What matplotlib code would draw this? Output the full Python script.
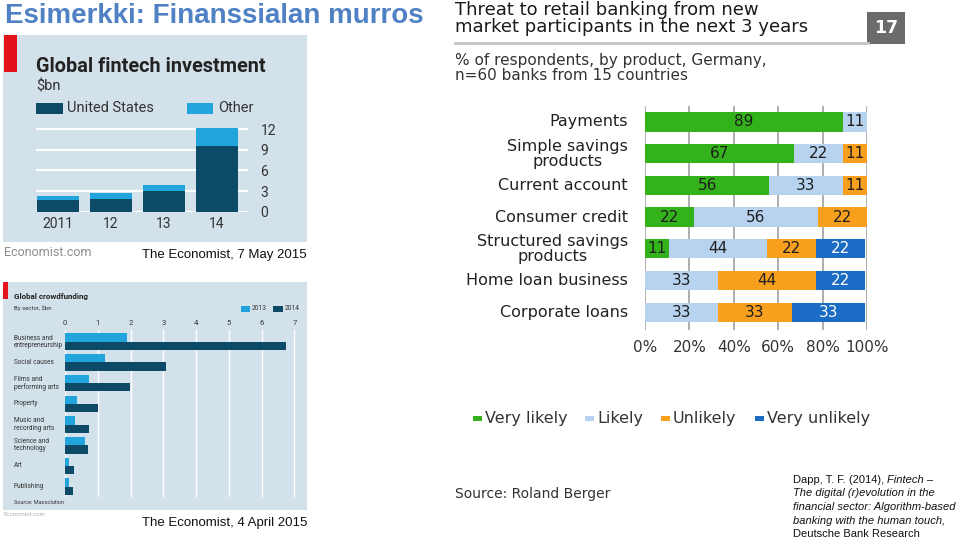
import numpy as np
import matplotlib
matplotlib.use("Agg")
import matplotlib.pyplot as plt
from matplotlib.patches import Rectangle
from matplotlib.lines import Line2D

# Global fintech investment ($bn)
years = ["2011", "12", "13", "14"]
us_inv = [1.7, 1.9, 3.0, 9.5]
other_inv = [0.6, 0.8, 0.9, 2.6]

# Global crowdfunding by sector ($bn)
sectors = ["Business and\nentrepreneurship", "Social causes", "Films and\nperforming arts",
           "Property", "Music and\nrecording arts", "Science and\ntechnology", "Art", "Publishing"]
cf_2013 = [1.88, 1.22, 0.73, 0.38, 0.30, 0.61, 0.11, 0.11]
cf_2014 = [6.73, 3.07, 1.97, 1.00, 0.74, 0.71, 0.26, 0.24]

# Threat to retail banking (% of respondents)
products = ["Payments", "Simple savings\nproducts", "Current account", "Consumer credit",
            "Structured savings\nproducts", "Home loan business", "Corporate loans"]
very_likely = [89, 67, 56, 22, 11, 0, 0]
likely = [11, 22, 33, 56, 44, 33, 33]
unlikely = [0, 11, 11, 22, 22, 44, 33]
very_unlikely = [0, 0, 0, 0, 22, 22, 33]
answers = ["Very likely", "Likely", "Unlikely", "Very unlikely"]

W, H = 960, 540
fig = plt.figure(figsize=(9.6, 5.4), dpi=100)
fig.patch.set_facecolor("white")


def px_axes(x0, y0, x1, y1):
    ax = fig.add_axes([x0 / W, 1 - y1 / H, (x1 - x0) / W, (y1 - y0) / H])
    ax.set_facecolor("none")
    for s in ax.spines.values():
        s.set_visible(False)
    return ax


def ftext(x, y, s, **kw):
    kw.setdefault("va", "center")
    return fig.text(x / W, 1 - y / H, s, **kw)


def frect(x0, y0, x1, y1, color):
    fig.patches.append(Rectangle((x0 / W, 1 - y1 / H), (x1 - x0) / W, (y1 - y0) / H,
                                 transform=fig.transFigure, color=color, zorder=-1, lw=0))


def fline(x0, x1, y, color, lw):
    fig.lines.append(Line2D([x0 / W, x1 / W], [1 - y / H, 1 - y / H],
                            transform=fig.transFigure, color=color, lw=lw))


eco_font = "Roboto"
rb_font = "DejaVu Sans"
dark = "#0c4a67"
light = "#22a5dc"
bg = "#d3e1ea"

# slide title
ftext(5, 16, "Esimerkki: Finanssialan murros", family="Liberation Sans", fontsize=20,
      weight="bold", color="#4f81c4")

# ---------- panel 1: fintech investment ----------
frect(3, 35, 307, 242, bg)
frect(4, 35, 17, 72, "#e3121b")
ftext(36, 66, "Global fintech investment", family=eco_font, fontsize=14.3, weight="bold", color="#222")
ftext(36, 87, "$bn", family=eco_font, fontsize=10.5, color="#333")
frect(36, 103, 63, 114, dark)
ftext(67, 108.5, "United States", family=eco_font, fontsize=10.5, color="#333")
frect(187, 103, 213, 114, light)
ftext(218, 108.5, "Other", family=eco_font, fontsize=10.5, color="#333")

ax1 = px_axes(36, 125, 248, 211.7)
x = np.arange(len(years))
ax1.bar(x, us_inv, width=0.79, color=dark, zorder=3)
ax1.bar(x, other_inv, bottom=us_inv, width=0.79, color=light, zorder=3)
ax1.set_xlim(-0.415, 3.585)
ax1.set_ylim(0, 12.6)
ax1.set_yticks([0, 3, 6, 9, 12])
ax1.yaxis.tick_right()
ax1.grid(axis="y", color="white", lw=1.5)
ax1.set_axisbelow(True)
ax1.set_xticks(x)
ax1.set_xticklabels(years)
ax1.tick_params(length=0, labelsize=10, labelcolor="#333")
ax1.tick_params(axis="y", pad=9)
ax1.tick_params(axis="x", pad=4)
for t in ax1.get_xticklabels() + ax1.get_yticklabels():
    t.set_family(eco_font)

ftext(4, 252, "Economist.com", family=eco_font, fontsize=9, color="#8c8c8c")
ftext(307, 255, "The Economist, 7 May 2015", family="Liberation Sans", fontsize=9.5,
      color="#111", ha="right")

# ---------- panel 2: crowdfunding ----------
frect(3, 282, 307, 510, bg)
frect(3, 282, 8, 299, "#e3121b")
ftext(14, 297, "Global crowdfunding", family=eco_font, fontsize=5.8, weight="bold", color="#222")
ftext(14, 308, "By sector, $bn", family=eco_font, fontsize=4.3, color="#333")
frect(241, 306, 250, 311.5, light)
ftext(251.5, 308.5, "2013", family=eco_font, fontsize=4.8, color="#333")
frect(273, 306, 283, 311.5, dark)
ftext(284.5, 308.5, "2014", family=eco_font, fontsize=4.8, color="#333")

ax2 = px_axes(65, 330, 297, 497)
yy = np.arange(len(sectors))
ax2.barh(yy - 0.2, cf_2013, height=0.4, color=light, zorder=3)
ax2.barh(yy + 0.2, cf_2014, height=0.4, color=dark, zorder=3)
ax2.set_xlim(0, 7.08)
ax2.set_ylim(7.5, -0.565)
ax2.set_xticks(range(8))
ax2.xaxis.tick_top()
ax2.set_yticks([])
ax2.grid(axis="x", color="white", lw=1)
ax2.set_axisbelow(True)
ax2.tick_params(length=0, labelsize=5.5, labelcolor="#333", pad=3)
for t in ax2.get_xticklabels():
    t.set_family(eco_font)
for i, s in enumerate(sectors):
    ftext(14, 341.7 + 20.7 * i, s, family=eco_font, fontsize=4.7, color="#333", linespacing=1.05)
ftext(14, 503, "Source: Massolution", family=eco_font, fontsize=4, color="#333")
ftext(3, 515, "Economist.com", family=eco_font, fontsize=4.3, color="#b0b0b0")
ftext(307, 523, "The Economist, 4 April 2015", family="Liberation Sans", fontsize=9.5,
      color="#111", ha="right")

# ---------- panel 3: threat to retail banking ----------
ftext(455, 10, "Threat to retail banking from new", family=rb_font, fontsize=13, color="#1a1a1a")
ftext(455, 27, "market participants in the next 3 years", family=rb_font, fontsize=13,
      color="#1a1a1a")
fline(455, 868, 43, "#c4c4c4", 2)
frect(867, 12, 905, 44, "#6b6b6b")
ftext(886, 28, "17", family=rb_font, fontsize=12.5, weight="bold", color="white", ha="center")
ftext(455, 61, "% of respondents, by product, Germany,", family=rb_font, fontsize=11,
      color="#333")
ftext(455, 76, "n=60 banks from 15 countries", family=rb_font, fontsize=11, color="#333")

ax3 = px_axes(645, 106, 867, 330)
colors3 = ["#33b21c", "#b7d3ef", "#f8a01e", "#1a6cc4"]
txtcol = ["#1e1e1e", "#1e1e1e", "#1e1e1e", "white"]
series = [very_likely, likely, unlikely, very_unlikely]
ypos = np.arange(len(products))
left = np.zeros(len(products))
for vals, c, tc in zip(series, colors3, txtcol):
    vals = np.array(vals, dtype=float)
    ax3.barh(ypos, vals, left=left, height=0.61, color=c, zorder=3)
    for yi, (l, v) in enumerate(zip(left, vals)):
        if v > 0:
            ax3.text(l + v / 2, yi, f"{v:.0f}", ha="center", va="center", fontsize=11,
                     family=rb_font, color=tc, zorder=4)
    left += vals
ax3.set_xlim(0, 100)
ax3.set_ylim(6.56, -0.5)
ax3.set_xticks(range(0, 101, 20))
ax3.set_xticklabels([f"{v}%" for v in range(0, 101, 20)])
ax3.set_yticks([])
ax3.grid(axis="x", color="#a8a8a8", lw=1.3)
ax3.set_axisbelow(True)
ax3.tick_params(length=0, labelsize=11, labelcolor="#333", pad=7)
for t in ax3.get_xticklabels():
    t.set_family(rb_font)
for i, p in enumerate(products):
    ftext(628, 122 + 31.7 * i, p, family=rb_font, fontsize=11.5, color="#222", ha="right",
          multialignment="center", linespacing=1.0)

# legend
leg_sq = [473, 585, 661, 755]
for xs, c, lab in zip(leg_sq, colors3, answers):
    frect(xs, 415.5, xs + 9, 420.5, c)
    ftext(xs + 12, 418, lab, family=rb_font, fontsize=11.5, color="#333")

ftext(455, 494, "Source: Roland Berger", family=rb_font, fontsize=10, color="#333")

# citation
cfs = 8
first = ftext(793, 480, "Dapp, T. F. (2014), ", family="Liberation Sans", fontsize=cfs, color="#111")
fig.canvas.draw()
bb = first.get_window_extent()
fig.text(bb.x1 / fig.dpi / 9.6, 1 - 480 / H, "Fintech \u2013", family="Liberation Sans",
         fontsize=cfs, style="italic", color="#111", va="center")
ftext(793, 493, "The digital (r)evolution in the", family="Liberation Sans", fontsize=cfs,
      style="italic", color="#111")
ftext(793, 507, "financial sector: Algorithm-based", family="Liberation Sans", fontsize=cfs,
      style="italic", color="#111")
ftext(793, 521, "banking with the human touch,", family="Liberation Sans", fontsize=cfs,
      style="italic", color="#111")
ftext(793, 534, "Deutsche Bank Research", family="Liberation Sans", fontsize=cfs, color="#111")

fig.savefig("out.png", dpi=100)
